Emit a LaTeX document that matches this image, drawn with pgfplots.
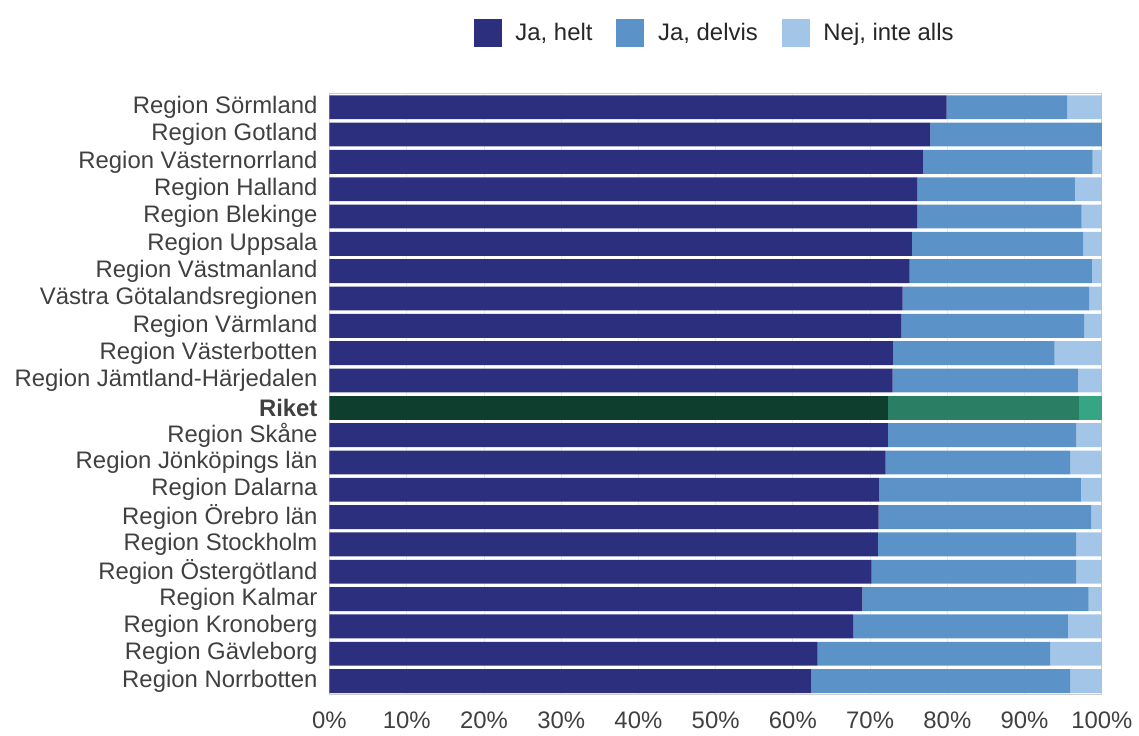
\documentclass[border=0pt]{standalone}
\usepackage{pgfplots}
\usepackage{pgfplotstable}
\pgfplotsset{compat=1.18}
\usepackage{fontspec}
\setmainfont{Liberation Sans}

\definecolor{helt}{HTML}{2B2F7E}
\definecolor{delvis}{HTML}{5B93C8}
\definecolor{nej}{HTML}{A3C6E8}
\definecolor{rhelt}{HTML}{0E3F2E}
\definecolor{rdelvis}{HTML}{2A7E63}
\definecolor{rnej}{HTML}{35A584}
\definecolor{labelgray}{HTML}{404040}

% idx, regions (helt delvis nej), Riket (rh rd rn)
\pgfplotstableread{
idx helt delvis nej rh rd rn
0  79.9 15.6 4.5 0 0 0
1  77.8 22.2 0.0 0 0 0
2  76.9 21.9 1.2 0 0 0
3  76.1 20.4 3.5 0 0 0
4  76.1 21.3 2.6 0 0 0
5  75.4 22.2 2.4 0 0 0
6  75.1 23.6 1.3 0 0 0
7  74.2 24.2 1.6 0 0 0
8  74.0 23.7 2.3 0 0 0
9  73.0 20.9 6.1 0 0 0
10 72.9 24.0 3.1 0 0 0
11 0 0 0 72.3 24.7 3.0
12 72.3 24.4 3.3 0 0 0
13 72.0 23.9 4.1 0 0 0
14 71.2 26.1 2.7 0 0 0
15 71.1 27.5 1.4 0 0 0
16 71.0 25.7 3.3 0 0 0
17 70.2 26.5 3.3 0 0 0
18 69.0 29.3 1.7 0 0 0
19 67.8 27.8 4.4 0 0 0
20 63.2 30.1 6.7 0 0 0
21 62.4 33.5 4.1 0 0 0
}\data

\begin{document}
\begin{tikzpicture}
\begin{axis}[
 name=ax,
 scale only axis,
 width=388pt,height=302pt,
 xbar stacked,
 bar width=12pt,
 xmin=0,xmax=100,
 ymin=-0.5,ymax=21.5,
 y dir=reverse,
 axis line style={gray!40},
 major tick length=0pt,
 xtick={0,10,...,100},
 xticklabels={0\%,10\%,20\%,30\%,40\%,50\%,60\%,70\%,80\%,90\%,100\%},
 xmajorgrids,grid style={gray!15},
 ytick={0,...,21},
 yticklabels={Region Sörmland,Region Gotland,Region Västernorrland,Region Halland,Region Blekinge,Region Uppsala,Region Västmanland,Västra Götalandsregionen,Region Värmland,Region Västerbotten,Region Jämtland-Härjedalen,\textbf{Riket},Region Skåne,Region Jönköpings län,Region Dalarna,Region Örebro län,Region Stockholm,Region Östergötland,Region Kalmar,Region Kronoberg,Region Gävleborg,Region Norrbotten},
 yticklabel style={font=\fontsize{12}{14}\selectfont,text=labelgray,xshift=-2.5pt},
 xticklabel style={font=\fontsize{12}{14}\selectfont,text=labelgray,yshift=-5pt},
 legend style={at={(0.5,1.1)},anchor=center,draw=none,legend columns=3,
   font=\fontsize{12}{14}\selectfont,text=black!85,
   /tikz/every odd column/.style={column sep=5pt},
   /tikz/every even column/.style={column sep=10pt}},
 legend image code/.code={\fill[#1] (0pt,-7pt) rectangle (14pt,7pt);},
]
\addplot[fill=helt,draw=none] table[x=helt,y=idx]{\data};
\addplot[fill=delvis,draw=none] table[x=delvis,y=idx]{\data};
\addplot[fill=nej,draw=none] table[x=nej,y=idx]{\data};
\addplot[fill=rhelt,draw=none,forget plot] table[x=rh,y=idx]{\data};
\addplot[fill=rdelvis,draw=none,forget plot] table[x=rd,y=idx]{\data};
\addplot[fill=rnej,draw=none,forget plot] table[x=rn,y=idx]{\data};
\legend{{Ja, helt},{Ja, delvis},{Nej, inte alls}}
\end{axis}
\path[use as bounding box] ([shift={(-165.5pt,-19pt)}]ax.south west) rectangle ([shift={(16pt,47pt)}]ax.north east);
\end{tikzpicture}
\end{document}
